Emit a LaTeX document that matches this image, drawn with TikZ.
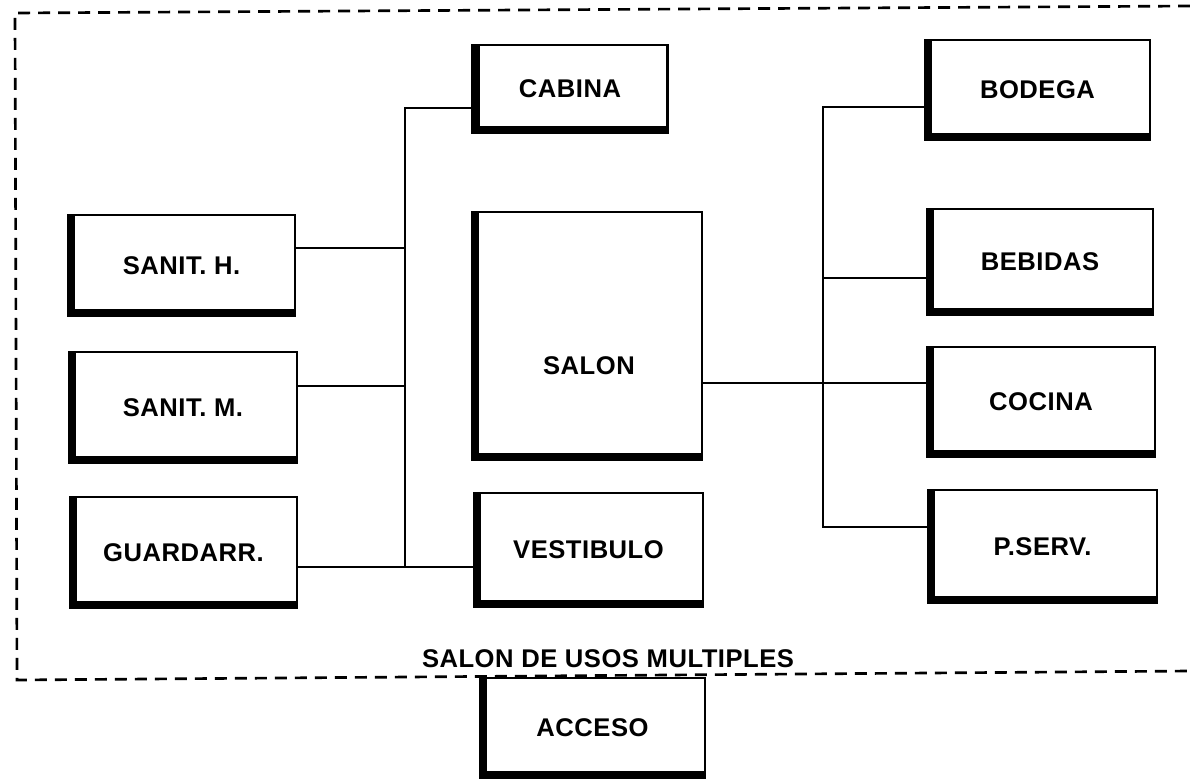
\documentclass[tikz,border=0pt]{standalone}
\usepackage{fontspec}
\setmainfont[LetterSpace=2]{Liberation Sans}
\begin{document}
\begin{tikzpicture}[x=0.75pt,y=-0.75pt,
  lbl/.style={inner sep=0pt, font=\bfseries\fontsize{19.2}{22}\selectfont},
  room/.style 2 args={draw, line width=1.6pt, inner sep=0pt, outer sep=0pt,
    minimum width=#1*0.75pt, minimum height=#2*0.75pt,
    font=\bfseries\fontsize{19.2}{22}\selectfont,
    path picture={\draw[line width=11pt] (path picture bounding box.north west) -- (path picture bounding box.south west) -- (path picture bounding box.south east);}},
  wire/.style={line width=1.6pt},
  frame/.style={line width=2pt, dash pattern=on 9pt off 6pt}]
\useasboundingbox (0,0) rectangle (1190,782);

% dashed outline
\coordinate (ftr) at (1190,6);
\coordinate (ftl) at (15,13);
\coordinate (fbl) at (17,680);
\coordinate (fbr) at (1190,671);
\draw[frame] (ftr) -- (ftl) -- (fbl) -- (fbr);
\node[lbl] (title) at (608,659) {SALON DE USOS MULTIPLES};

% left column
\node[room={227}{101}] (sh) at (181.5,265.5) {SANIT. H.};
\node[room={228}{111}] (sm) at (183,407.5) {SANIT. M.};
\node[room={227}{111}] (gd) at (183.5,552.5) {GUARDARR.};

% middle column
\node[room={195}{88}] (cab) at (570,89) {CABINA};
\node[room={230}{248}] (salon) at (587,336) {};
\node[lbl] (salont) at (589,366) {SALON};
\node[room={229}{114}] (vest) at (588.5,550) {VESTIBULO};
\node[room={225}{100}] (acc) at (592.5,728) {ACCESO};

% right column
\node[room={225}{100}] (bod) at (1037.5,90) {BODEGA};
\node[room={226}{106}] (beb) at (1040,262) {BEBIDAS};
\node[room={228}{110}] (coc) at (1041,402) {COCINA};
\node[room={229}{113}] (ps) at (1042.5,546.5) {P.SERV.};

% left bus
\coordinate (lt) at (405,108);
\coordinate (lh) at (405,248);
\coordinate (lm) at (405,386);
\coordinate (lb) at (405,567);
\draw[wire] (cab.west |- lt) -- (lt) -- (lb);
\draw[wire] (sh.east |- lh) -- (lh);
\draw[wire] (sm.east |- lm) -- (lm);
\draw[wire] (gd.east |- lb) -- (vest.west |- lb);

% right bus
\coordinate (rt) at (823,107);
\coordinate (re) at (823,278);
\coordinate (rc) at (823,383);
\coordinate (rb) at (823,527);
\draw[wire] (bod.west |- rt) -- (rt) -- (rb) -- (ps.west |- rb);
\draw[wire] (beb.west |- re) -- (re);
\draw[wire] (salon.east |- rc) -- (coc.west |- rc);
\end{tikzpicture}
\end{document}
